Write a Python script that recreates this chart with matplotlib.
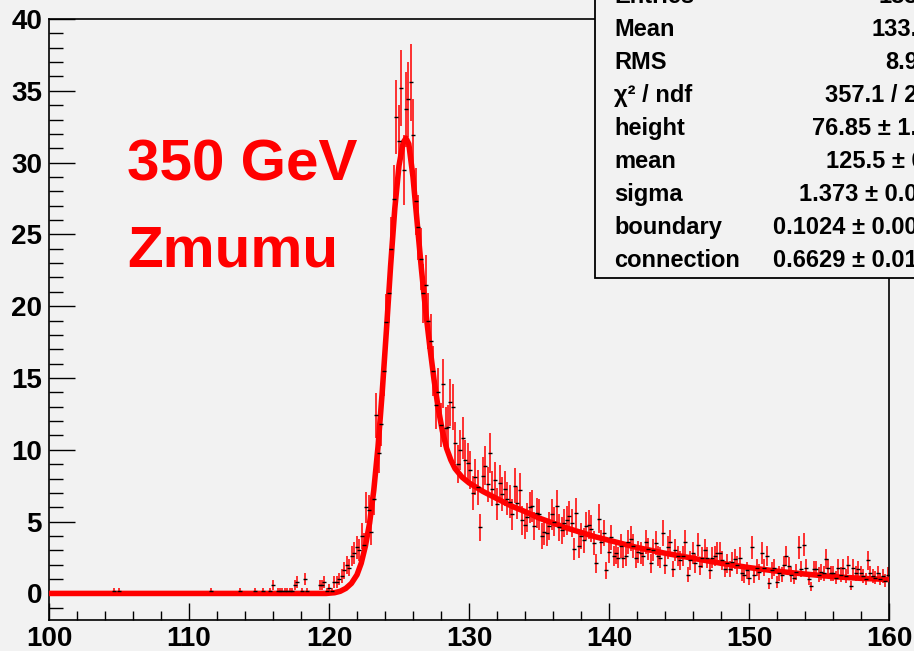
import numpy as np
import matplotlib
matplotlib.use("Agg")
import matplotlib.pyplot as plt
from matplotlib.patches import Rectangle
from matplotlib.ticker import MultipleLocator

# ---------------- data ----------------
x_min, x_max = 100.0, 160.0
entry_weight = 0.2

counts_low = [
    0, 0, 0, 0, 0, 0, 0, 0, 0, 0,
    0, 0, 0, 0, 0, 0, 0, 0, 0, 0,
    0, 0, 0, 0, 0, 0, 0.2, 0, 0.2, 0,
    0, 0, 0, 0, 0, 0, 0, 0, 0, 0,
    0, 0, 0, 0, 0, 0, 0, 0, 0, 0,
    0, 0, 0, 0, 0, 0, 0, 0, 0, 0,
    0, 0, 0, 0, 0, 0.2, 0, 0, 0, 0,
    0, 0, 0, 0, 0, 0, 0, 0.2, 0, 0,
    0, 0, 0, 0.2, 0, 0, 0.2, 0, 0, 0.2,
    0.6, 0, 0.2, 0.2, 0.2, 0.2, 0.2, 0.2, 0.2, 0.6,
    0.8, 0, 0.2, 1.0, 0.2, 0, 0, 0, 0, 0.6,
    0.6, 0.8, 0.2, 0.4, 0.2, 0.8, 0.8, 1.0, 1.2, 1.6,
    2.0, 1.8, 2.6, 2.8, 3.2, 3.0,
]

counts_peak = [
    4.0, 3.4, 6.0, 5.8, 4.3, 6.6, 12.4, 9.8, 11.8, 15.5,
    18.9, 20.9, 24.0, 27.5, 33.2, 31.5, 35.2, 29.5, 33.7, 34.4,
    35.6, 31.9, 27.3, 25.5, 23.3, 20.9, 21.5, 19.0, 17.6, 15.5,
    13.1, 14.0, 11.7, 14.6, 11.5, 11.6, 13.3, 13.0, 10.5, 9.0,
    10.0, 10.8, 9.3, 9.1, 8.6, 7.0, 8.1, 7.4, 4.6, 8.2,
    8.9, 7.6, 9.8, 7.3, 7.9, 6.2, 7.7, 6.9, 7.3, 6.6,
    6.4, 5.5, 7.5, 6.3, 7.2, 5.1, 4.8, 5.3, 6.0, 6.1,
    4.7, 5.6, 5.5, 4.0, 4.3, 4.2, 4.7, 5.5, 5.0, 6.1,
    4.6, 4.4, 4.9, 5.1, 5.4, 4.9, 3.1, 5.6, 3.3, 4.0,
    3.7, 4.7,
]

counts_tail1 = [
    4.8, 4.5, 3.5, 2.1, 5.2, 3.6, 4.2, 1.6, 2.9, 3.9,
    2.6, 2.8, 2.5, 3.3, 2.5, 2.6, 3.6, 3.8, 3.3, 2.5,
    2.9, 2.8, 2.6, 3.6, 3.1, 2.1, 3.0, 3.5, 2.6, 2.5,
    4.2, 2.0, 3.2, 3.6, 1.7, 3.0, 2.6, 2.3, 2.6, 3.6,
    1.3, 2.3, 2.8, 2.1, 3.4, 1.9, 2.5, 3.0, 2.5, 1.6,
    2.5, 2.6, 2.8, 2.8, 2.3, 1.7, 2.1, 1.7, 2.2, 2.4,
]

counts_tail2 = [
    1.95, 2.5, 1.4, 1.25, 1.6, 1.07, 3.2, 1.25, 1.8, 1.5,
    2.8, 1.8, 2.6, 0.7, 1.6, 1.8, 0.8, 1.4, 1.3, 2.0,
    2.6, 1.9, 1.3, 1.1, 1.5, 3.2, 1.7, 3.4, 1.8, 1.0,
    0.5, 1.7, 1.7, 1.3, 1.5, 1.4, 2.4, 1.8, 1.4, 1.4,
    1.1, 1.8, 1.3, 1.8, 1.2, 1.95, 0.55, 1.8, 1.4, 1.7,
    1.4, 1.2, 1.0, 2.3, 1.4, 1.2, 1.1, 1.4, 1.0, 1.2,
    0.9, 1.3,
]

# fitted function
fit_x = [100.0, 119.8, 120.4, 120.8, 121.2, 121.6, 122.0, 122.3, 122.6, 122.9,
         123.2, 123.5, 123.8, 124.1, 124.4, 124.7, 125.0, 125.3, 125.5, 125.7,
         126.0, 126.3, 126.6, 126.9, 127.2, 127.5, 127.8, 128.1, 128.4, 128.7,
         129.0, 129.5, 130.0, 131.0, 132.0, 133.0, 134.0, 135.0, 136.0, 137.0,
         138.0, 139.0, 140.0, 142.0, 144.0, 146.0, 148.0, 150.0, 152.0, 154.0,
         156.0, 158.0, 160.0]
fit_y = [0.0, 0.0, 0.05, 0.15, 0.35, 0.7, 1.3, 2.1, 3.3, 4.9,
         7.2, 10.2, 14.0, 18.3, 22.8, 26.8, 29.8, 31.4, 31.7, 31.3,
         29.0, 25.8, 22.6, 19.7, 17.2, 14.9, 12.9, 11.3, 10.1, 9.3,
         8.7, 8.1, 7.7, 7.1, 6.6, 6.1, 5.7, 5.25, 4.9, 4.55,
         4.25, 3.95, 3.7, 3.2, 2.8, 2.45, 2.1, 1.8, 1.55, 1.35,
         1.17, 1.05, 0.97]

stat_labels = ["Entries", "Mean", "RMS", "\u03c7\u00b2 / ndf", "height", "mean",
               "sigma", "boundary", "connection"]
stat_values = ["18365", "133.06", "8.945", "357.1 / 295", "76.85 \u00b1 1.23",
               "125.5 \u00b1 0.1", "1.373 \u00b1 0.042", "0.1024 \u00b1 0.0061",
               "0.6629 \u00b1 0.0138"]

# ---------------- plot ----------------
plt.rcParams['font.family'] = ['Liberation Sans', 'DejaVu Sans']
bg = '#f2f2f2'
W, H = 914, 651

counts = np.array(counts_low + counts_peak + counts_tail1 + counts_tail2, dtype=float)
edges = np.linspace(x_min, x_max, len(counts) + 1)
centers = 0.5 * (edges[:-1] + edges[1:])
errors = np.sqrt(counts * entry_weight)
m = counts > 0

fig = plt.figure(figsize=(W / 100, H / 100), dpi=100, facecolor=bg)
ax = fig.add_axes([49 / W, 1 - 620 / H, (889 - 49) / W, (620 - 19) / H])
ax.set_facecolor(bg)

ax.errorbar(centers[m], counts[m], yerr=errors[m], fmt='none',
            ecolor=(1, 0, 0, 0.8), elinewidth=1.4, capsize=0, zorder=2)
ax.plot(fit_x, fit_y, color='red', lw=4.0, zorder=4,
        solid_joinstyle='round', solid_capstyle='butt')
ax.plot(centers[m], counts[m], ls='none', marker='_', ms=3.5, mew=1.0,
        color='black', zorder=5)

ax.set_xlim(x_min, x_max)
ax.set_ylim(-1.85, 40)
ax.xaxis.set_major_locator(MultipleLocator(10))
ax.xaxis.set_minor_locator(MultipleLocator(2))
ax.yaxis.set_major_locator(MultipleLocator(5))
ax.yaxis.set_minor_locator(MultipleLocator(1))
ax.tick_params(axis='x', which='major', direction='in', length=12.5, width=1.0, pad=4)
ax.tick_params(axis='x', which='minor', direction='in', length=6.5, width=1.0)
ax.tick_params(axis='y', which='major', direction='in', length=18.5, width=1.0, pad=5)
ax.tick_params(axis='y', which='minor', direction='in', length=10, width=1.0)
ax.tick_params(top=False, right=False, which='both')
for lab in ax.get_xticklabels() + ax.get_yticklabels():
    lab.set_fontsize(20)
    lab.set_fontweight('bold')
for s in ax.spines.values():
    s.set_linewidth(1.2)
    s.set_color('black')

fig.text(127 / W, 1 - 181 / H, "350 GeV", color='red', fontsize=42,
         fontweight='bold', va='baseline', ha='left')
fig.text(127 / W, 1 - 266 / H, "Zmumu", color='red', fontsize=42,
         fontweight='bold', va='baseline', ha='left')

# stats box
box = Rectangle((595 / W, 1 - 278 / H), (960 - 595) / W, (278 + 20) / H,
                transform=fig.transFigure, facecolor=bg, edgecolor='black',
                lw=1.3, zorder=10)
fig.add_artist(box)
for k, (lab, val) in enumerate(zip(stat_labels, stat_values)):
    yb = 1 - (3 + 33 * k) / H
    fig.text(614 / W, yb, lab, fontsize=17, fontweight='bold', va='baseline',
             ha='left', zorder=11)
    fig.text(944 / W, yb, val, fontsize=17, fontweight='bold', va='baseline',
             ha='right', zorder=11)

fig.savefig('out.png', dpi=100, facecolor=bg)
